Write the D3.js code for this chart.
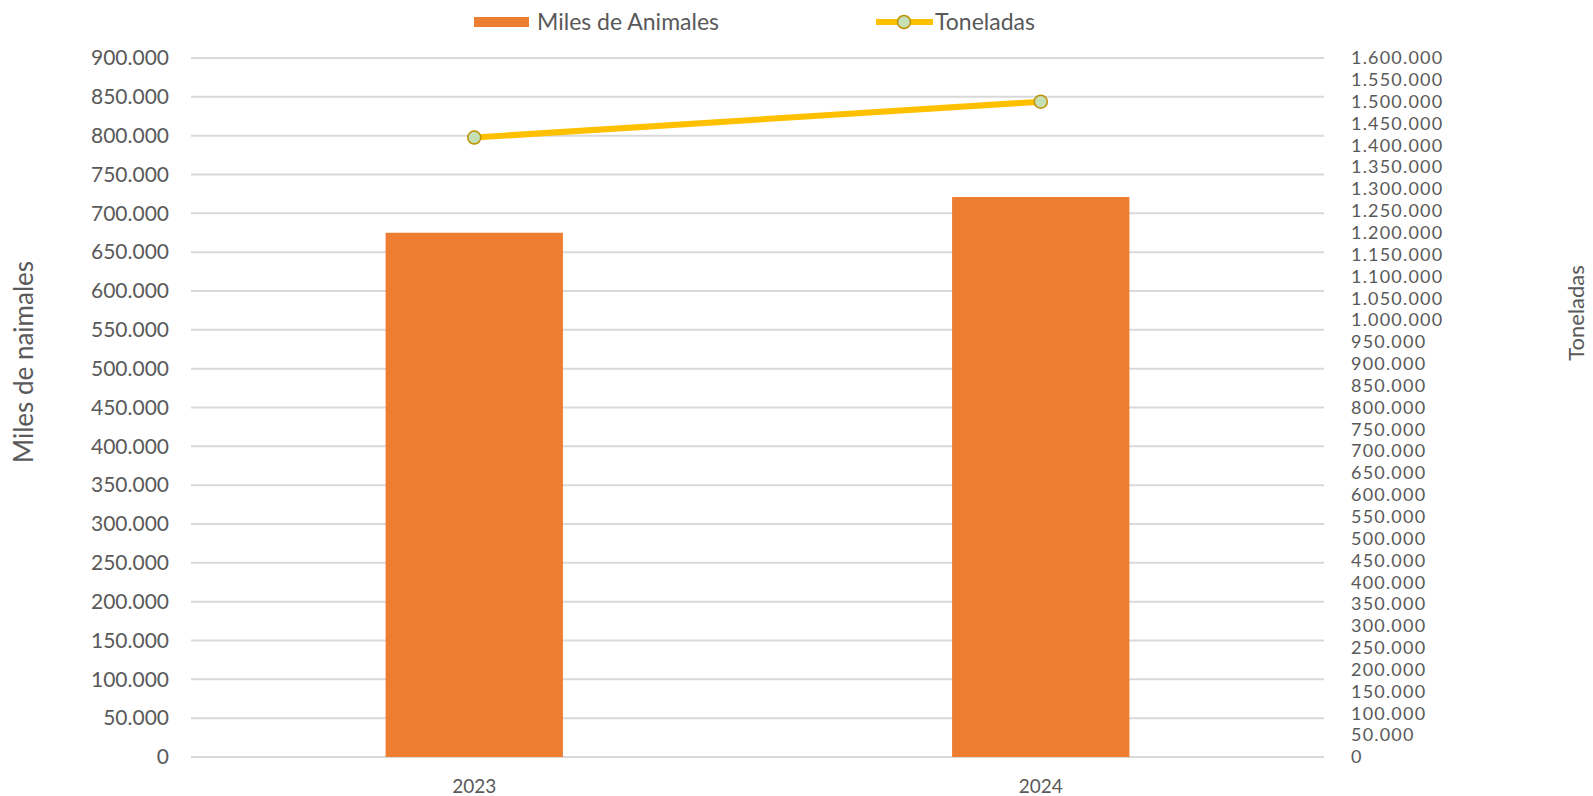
<!DOCTYPE html>
<html>
<head>
<meta charset="utf-8">
<script src="https://cdn.jsdelivr.net/npm/d3@7"></script>
<style>
  body { margin: 0; background: #fff; }
  svg text { font-family: Lato, "Open Sans", sans-serif; fill: #595959; }
</style>
</head>
<body>
<div id="chart"></div>
<script>
// data
var years = ["2023", "2024"];
var animales = [675000, 721000];      // miles de animales (barras)
var toneladas = [1418000, 1500000];   // toneladas (linea, eje derecho)
var leftTicks = d3.range(0, 900001, 50000);
var rightTicks = d3.range(0, 1600001, 50000);

var width = 1593, height = 796;
var margin = { top: 58, right: 269, bottom: 39, left: 191 };
var w = width - margin.left - margin.right,
  h = height - margin.top - margin.bottom;

var loc = d3.formatLocale({ decimal: ",", thousands: ".", grouping: [3], currency: ["", ""] });
var fmt = loc.format(",");

var svg = d3.select("#chart").append("svg")
  .attr("width", width)
  .attr("height", height);
var g = svg.append("g")
  .attr("transform", "translate(" + margin.left + "," + margin.top + ")");

// scales
var x = d3.scaleBand()
  .domain(years)
  .range([0, w])
  .paddingInner(0.687)
  .paddingOuter(0.3435);
var y = d3.scaleLinear().domain([0, 900000]).range([h, 0]);
var y2 = d3.scaleLinear().domain([0, 1600000]).range([h, 0]);

// gridlines
g.selectAll(".grid")
  .data(leftTicks)
  .enter().append("line")
  .attr("x1", 0).attr("x2", w)
  .attr("y1", function (d) { return y(d); })
  .attr("y2", function (d) { return y(d); })
  .attr("stroke", "#d9d9d9")
  .attr("stroke-width", 2);

// left axis
var yAxis = d3.axisLeft(y).tickValues(leftTicks).tickFormat(fmt).tickSize(0).tickPadding(22);
var ya = g.append("g").call(yAxis);
ya.select(".domain").remove();
ya.selectAll("text").style("font-size", "21px").style("fill", "#595959");

// right axis (tight spacing, so smaller font + some letter spacing)
var y2Axis = d3.axisRight(y2).tickValues(rightTicks).tickFormat(fmt).tickSize(0).tickPadding(27);
var ya2 = g.append("g").attr("transform", "translate(" + w + ",0)").call(y2Axis);
ya2.select(".domain").remove();
ya2.selectAll("text")
  .style("font-size", "18px")
  .style("letter-spacing", "1.2px")
  .style("fill", "#595959");

// x axis
var xAxis = d3.axisBottom(x).tickSize(0).tickPadding(23);
var xa = g.append("g").attr("transform", "translate(0," + h + ")").call(xAxis);
xa.select(".domain").remove();
xa.selectAll("text").style("font-size", "19px").style("fill", "#595959");

// bars
g.selectAll(".bar")
  .data(animales)
  .enter().append("rect")
  .attr("class", "bar")
  .attr("x", function (d, i) { return x(years[i]); })
  .attr("width", x.bandwidth())
  .attr("y", function (d) { return y(d); })
  .attr("height", function (d) { return h - y(d); })
  .attr("fill", "#ed7d31");

// line
var line = d3.line()
  .x(function (d, i) { return x(years[i]) + x.bandwidth() / 2; })
  .y(function (d) { return y2(d); });
g.append("path")
  .datum(toneladas)
  .attr("d", line)
  .attr("fill", "none")
  .attr("stroke", "#ffc000")
  .attr("stroke-width", 6);
g.selectAll(".pt")
  .data(toneladas)
  .enter().append("circle")
  .attr("cx", function (d, i) { return x(years[i]) + x.bandwidth() / 2; })
  .attr("cy", function (d) { return y2(d); })
  .attr("r", 6.5)
  .attr("fill", "#c5e0b4")
  .attr("stroke", "#bf9000")
  .attr("stroke-width", 1.5);

// axis titles
svg.append("text")
  .attr("transform", "translate(33,362) rotate(-90)")
  .attr("text-anchor", "middle")
  .style("font-size", "26px")
  .text("Miles de naimales");
svg.append("text")
  .attr("transform", "translate(1584,313) rotate(-90)")
  .attr("text-anchor", "middle")
  .style("font-size", "22px")
  .text("Toneladas");

// legend
var leg = svg.append("g");
leg.append("rect")
  .attr("x", 474).attr("y", 17).attr("width", 55).attr("height", 10)
  .attr("fill", "#ed7d31");
leg.append("text")
  .attr("x", 537).attr("y", 30)
  .style("font-size", "23px")
  .text("Miles de Animales");
leg.append("line")
  .attr("x1", 876).attr("x2", 933).attr("y1", 22).attr("y2", 22)
  .attr("stroke", "#ffc000").attr("stroke-width", 6);
leg.append("circle")
  .attr("cx", 904).attr("cy", 22).attr("r", 6.5)
  .attr("fill", "#c5e0b4").attr("stroke", "#bf9000").attr("stroke-width", 1.5);
leg.append("text")
  .attr("x", 935).attr("y", 30)
  .style("font-size", "23px")
  .text("Toneladas");
</script>
</body>
</html>
